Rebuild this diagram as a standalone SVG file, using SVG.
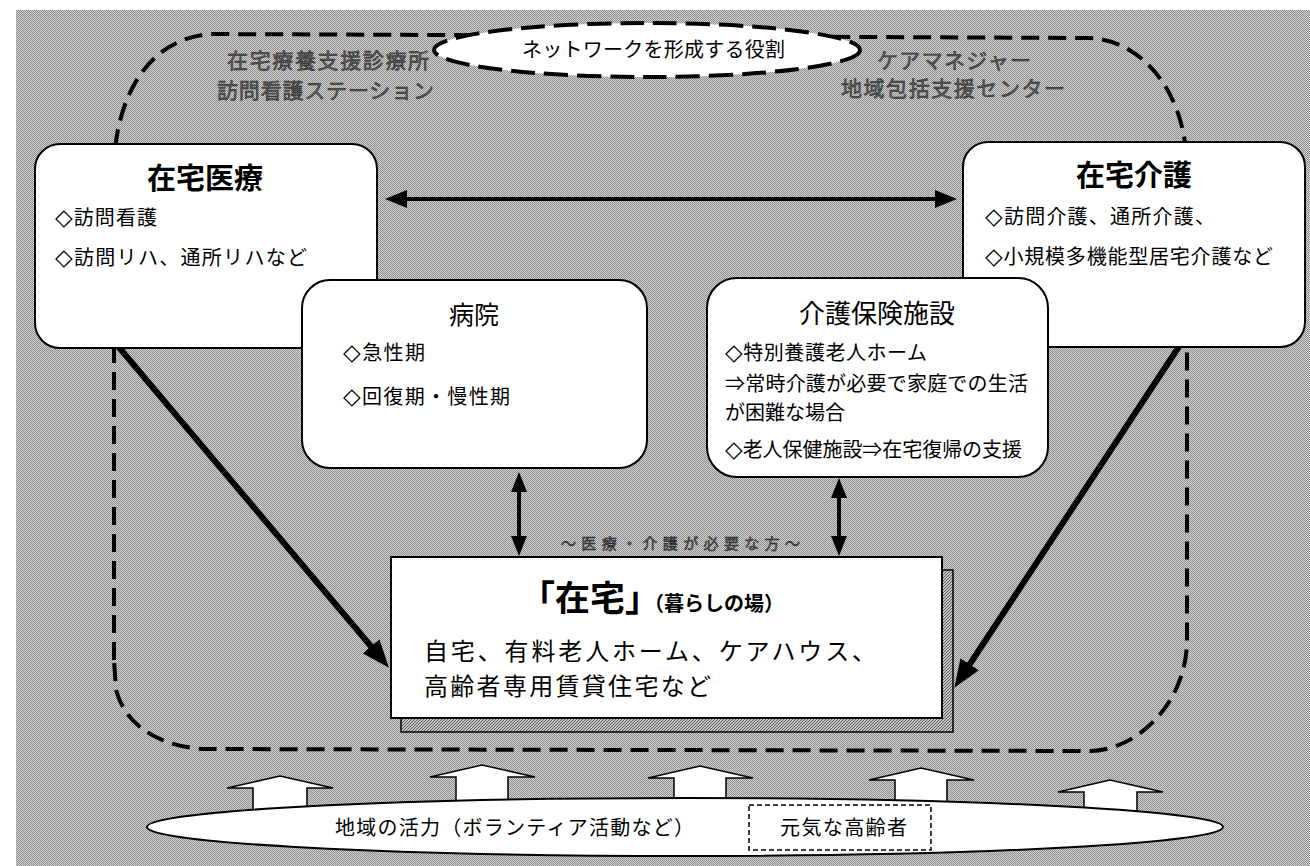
<svg xmlns="http://www.w3.org/2000/svg" width="1310" height="866" viewBox="0 0 1310 866">
<style>
.jp{font-family:"Noto Sans CJK JP","Noto Sans CJK SC",sans-serif;fill:#000}
.dm{font-family:"DejaVu Sans",sans-serif;font-weight:bold;font-size:23px}
.lbl{font-family:"Noto Sans CJK JP","Noto Sans CJK SC",sans-serif;fill:#5a5a5a;stroke:#1a1a1a;stroke-width:0.45}
.box{fill:#fff;stroke:#000;stroke-width:2}
.dash{fill:none;stroke:#000;stroke-width:4;stroke-dasharray:18 9}
.conn{stroke:#000;fill:none}
.up{fill:#fff;stroke:#000;stroke-width:1.5;stroke-linejoin:miter}
</style>
<defs>
<pattern id="ht" width="2" height="2" patternUnits="userSpaceOnUse">
<rect width="2" height="2" fill="#d2d2d2"/>
<rect x="0" y="0" width="1" height="1" fill="#8e8e8e"/>
<rect x="1" y="1" width="1" height="1" fill="#8e8e8e"/>
</pattern>
<pattern id="sh" width="3" height="3" patternUnits="userSpaceOnUse">
<rect width="3" height="3" fill="#c8c8c8"/>
<path d="M0,3 L3,0" stroke="#555" stroke-width="1"/>
</pattern>
<marker id="ah" viewBox="0 0 22 18" markerWidth="22" markerHeight="18" refX="10" refY="9" orient="auto-start-reverse" markerUnits="userSpaceOnUse">
<path d="M0,0 L22,9 L0,18 z" fill="#000"/>
</marker>
<marker id="ahs" viewBox="0 0 20 16" markerWidth="20" markerHeight="16" refX="8" refY="8" orient="auto-start-reverse" markerUnits="userSpaceOnUse">
<path d="M0,0 L20,8 L0,16 z" fill="#000"/>
</marker>
<marker id="ahb" viewBox="0 0 28 22" markerWidth="28" markerHeight="22" refX="14" refY="11" orient="auto" markerUnits="userSpaceOnUse">
<path d="M0,0 L28,11 L0,22 z" fill="#000"/>
</marker>
</defs>

<rect x="16" y="10" width="1294" height="856" fill="url(#ht)"/>

<g id="network-outline">
<path class="dash" d="M114,660 L114,170 C114,110 140,40 210,34 L1090,38 C1140,40 1187,90 1187,170 L1187,640 C1187,700 1140,750 1090,751 L205,749 C175,748 128,735 116,690 L114,660"/>
<ellipse cx="647" cy="50" rx="213" ry="27" fill="#fff" stroke="#000" stroke-width="4" stroke-dasharray="24 9"/>
<text class="jp" x="522" y="57" font-size="20" textLength="263" lengthAdjust="spacing">ネットワークを形成する役割</text>
</g>

<g id="top-labels">
<text class="lbl" x="227" y="68" font-size="21" textLength="202" lengthAdjust="spacing">在宅療養支援診療所</text>
<text class="lbl" x="217" y="98" font-size="21" textLength="217" lengthAdjust="spacing">訪問看護ステーション</text>
<text class="lbl" x="877" y="68" font-size="21" textLength="154" lengthAdjust="spacing">ケアマネジャー</text>
<text class="lbl" x="841" y="96" font-size="21" textLength="224" lengthAdjust="spacing">地域包括支援センター</text>
</g>

<g id="connectors">
<line class="conn" x1="117" y1="345" x2="380" y2="657" stroke-width="6" marker-end="url(#ahb)"/>
<line class="conn" x1="1180" y1="345" x2="962" y2="676" stroke-width="6" marker-end="url(#ahb)"/>
<line class="conn" x1="397" y1="199" x2="945" y2="199" stroke-width="4" marker-start="url(#ah)" marker-end="url(#ah)"/>
<line class="conn" x1="519" y1="484" x2="519" y2="544" stroke-width="4" marker-start="url(#ahs)" marker-end="url(#ahs)"/>
<line class="conn" x1="839" y1="490" x2="839" y2="544" stroke-width="4" marker-start="url(#ahs)" marker-end="url(#ahs)"/>
</g>

<g id="zaitaku-iryo">
<rect class="box" x="35" y="144" width="342" height="204" rx="25"/>
<text class="jp" x="205" y="189" font-size="29" font-weight="bold" text-anchor="middle">在宅医療</text>
<text class="jp" x="55" y="225" font-size="20" textLength="102" lengthAdjust="spacing"><tspan class="dm">◇</tspan>訪問看護</text>
<text class="jp" x="55" y="265" font-size="20" textLength="252" lengthAdjust="spacing"><tspan class="dm">◇</tspan>訪問リハ、通所リハなど</text>
</g>

<g id="zaitaku-kaigo">
<rect class="box" x="963" y="142" width="342" height="205" rx="25"/>
<text class="jp" x="1134" y="186" font-size="29" font-weight="bold" text-anchor="middle">在宅介護</text>
<text class="jp" x="985" y="224" font-size="20" textLength="230" lengthAdjust="spacing"><tspan class="dm">◇</tspan>訪問介護、通所介護、</text>
<text class="jp" x="985" y="264" font-size="20" textLength="288" lengthAdjust="spacing"><tspan class="dm">◇</tspan>小規模多機能型居宅介護など</text>
</g>

<g id="byoin">
<rect class="box" x="302" y="280" width="345" height="188" rx="28"/>
<text class="jp" x="474" y="324" font-size="25" text-anchor="middle">病院</text>
<text class="jp" x="343" y="360" font-size="20" textLength="82" lengthAdjust="spacing"><tspan class="dm">◇</tspan>急性期</text>
<text class="jp" x="343" y="404" font-size="20" textLength="167" lengthAdjust="spacing"><tspan class="dm">◇</tspan>回復期・慢性期</text>
</g>

<g id="kaigo-hoken-shisetsu">
<rect class="box" x="707" y="278" width="341" height="199" rx="30"/>
<text class="jp" x="877" y="323" font-size="26" text-anchor="middle">介護保険施設</text>
<text class="jp" x="725" y="360" font-size="20" textLength="202" lengthAdjust="spacing"><tspan class="dm">◇</tspan>特別養護老人ホーム</text>
<text class="jp" x="725" y="391" font-size="20" textLength="303" lengthAdjust="spacing">⇒常時介護が必要で家庭での生活</text>
<text class="jp" x="725" y="420" font-size="20" textLength="120" lengthAdjust="spacing">が困難な場合</text>
<text class="jp" x="725" y="457" font-size="20" textLength="297" lengthAdjust="spacing"><tspan class="dm">◇</tspan>老人保健施設⇒在宅復帰の支援</text>
</g>

<g id="zaitaku">
<text class="lbl" x="561" y="549" font-size="15" textLength="239" lengthAdjust="spacing">～医療・介護が必要な方～</text>
<rect x="401" y="570" width="552" height="162" fill="url(#sh)" stroke="#000" stroke-width="1.5"/>
<rect x="391" y="557" width="551" height="161" fill="#fff" stroke="#000" stroke-width="2"/>
<text class="jp" x="520" y="611" font-weight="bold"><tspan font-size="35">「在宅」</tspan><tspan font-size="20" dx="-6">（暮らしの場）</tspan></text>
<text class="jp" x="424" y="660" font-size="24" textLength="452" lengthAdjust="spacing">自宅、有料老人ホーム、ケアハウス、</text>
<text class="jp" x="424" y="695" font-size="24" textLength="287" lengthAdjust="spacing">高齢者専用賃貸住宅など</text>
</g>

<g id="chiiki">
<polygon class="up" points="227,788 280,776 333,788 307,788 307,840 253,840 253,788"/>
<polygon class="up" points="430,777 482,765 535,777 508,777 508,840 456,840 456,777"/>
<polygon class="up" points="648,778 700,766 753,778 726,778 726,840 674,840 674,778"/>
<polygon class="up" points="869,780 921,768 974,780 947,780 947,840 895,840 895,780"/>
<polygon class="up" points="1058,792 1110,780 1163,792 1137,792 1137,840 1084,840 1084,792"/>
<ellipse cx="685" cy="827" rx="538" ry="29" fill="#fff" stroke="#000" stroke-width="2"/>
<text class="jp" x="335" y="835" font-size="20" textLength="359" lengthAdjust="spacing">地域の活力（ボランティア活動など）</text>
<rect x="749" y="805" width="182" height="45" fill="none" stroke="#000" stroke-width="1.5" stroke-dasharray="5 3"/>
<text class="jp" x="780" y="835" font-size="20" textLength="127" lengthAdjust="spacing">元気な高齢者</text>
</g>
</svg>
